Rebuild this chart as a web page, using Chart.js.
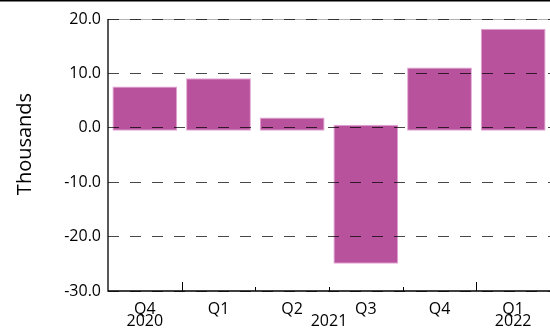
<!DOCTYPE html>
<html>
<head>
<meta charset="utf-8">
<script src="https://cdn.jsdelivr.net/npm/chart.js@4/dist/chart.umd.min.js"></script>
<style>
  html, body { margin: 0; padding: 0; background: #fff; }
  #wrap { width: 550px; height: 332px; position: relative; }
</style>
</head>
<body>
<div id="wrap"><canvas id="c" width="550" height="332"></canvas></div>
<script>
// ---- data ----
const quarters = ['Q4', 'Q1', 'Q2', 'Q3', 'Q4', 'Q1'];
const years = ['2020', '2021', '2021', '2021', '2021', '2022'];
const values = [7.6, 9.1, 1.9, -25.0, 11.1, 18.2];
const yTickValues = [-30, -20, -10, 0, 10, 20];
const yTitle = 'Thousands';

const FONT = "'Open Sans', 'Noto Sans', sans-serif";

const extrasPlugin = {
  id: 'extras',
  beforeDatasetsDraw(chart) {
    // bars start a few pixels past the zero line, as in the reference
    const y = chart.scales.y;
    const zero = y.getPixelForValue(0);
    chart.getDatasetMeta(0).data.forEach((el, i) => {
      el.base = zero + (values[i] >= 0 ? 3 : -3);
    });
    // faint solid line under the top gridline
    const ctx = chart.ctx, a = chart.chartArea;
    ctx.save();
    ctx.strokeStyle = 'rgba(0,0,0,0.3)';
    ctx.lineWidth = 1;
    ctx.beginPath();
    const ty = Math.round(y.getPixelForValue(20)) + 0.5;
    ctx.moveTo(a.left, ty); ctx.lineTo(a.right, ty);
    ctx.stroke();
    ctx.restore();
  },
  afterDraw(chart) {
    const ctx = chart.ctx;
    const x = chart.scales.x;
    const a = chart.chartArea;
    const n = quarters.length;
    const half = x.width / n / 2;
    ctx.save();
    // top border line
    ctx.fillStyle = '#000';
    ctx.fillRect(0, 0, chart.width, 1.5);
    // axis lines
    ctx.strokeStyle = '#000';
    ctx.lineWidth = 1.3;
    ctx.beginPath();
    ctx.moveTo(a.left, a.top);
    ctx.lineTo(a.left, a.bottom);
    ctx.lineTo(a.right, a.bottom);
    ctx.stroke();
    // inner tick marks at category boundaries (longer at year change)
    ctx.lineWidth = 1;
    for (let i = 0; i < n - 1; i++) {
      const px = Math.round((x.getPixelForValue(i) + x.getPixelForValue(i + 1)) / 2) + 0.5;
      const len = years[i] !== years[i + 1] ? 9 : 4;
      ctx.beginPath();
      ctx.moveTo(px, a.bottom);
      ctx.lineTo(px, a.bottom - len);
      ctx.stroke();
    }
    // year labels centred under their quarter groups
    ctx.fillStyle = '#000';
    ctx.font = '16px ' + FONT;
    ctx.textAlign = 'center';
    ctx.textBaseline = 'alphabetic';
    let start = 0;
    for (let i = 1; i <= n; i++) {
      if (i === n || years[i] !== years[start]) {
        const left = x.getPixelForValue(start) - half;
        const right = x.getPixelForValue(i - 1) + half;
        ctx.fillText(years[start], (left + right) / 2, 326);
        start = i;
      }
    }
    // y axis title
    ctx.font = '20px ' + FONT;
    ctx.translate(25, 144);
    ctx.rotate(-Math.PI / 2);
    ctx.textBaseline = 'middle';
    ctx.fillText(yTitle, 0, 0);
    ctx.restore();
  }
};

new Chart(document.getElementById('c'), {
  type: 'bar',
  data: {
    labels: quarters,
    datasets: [{
      data: values,
      backgroundColor: '#B8529C',
      borderColor: '#E2A5D5',
      borderWidth: 1,
      borderSkipped: false,
      barPercentage: 0.88,
      categoryPercentage: 1.0
    }]
  },
  options: {
    responsive: false,
    animation: false,
    events: [],
    layout: { padding: { top: 19, right: 0, left: 0, bottom: 0 } },
    plugins: { legend: { display: false }, tooltip: { enabled: false }, title: { display: false } },
    scales: {
      x: {
        grid: { display: false, drawTicks: false },
        border: { display: false },
        ticks: { color: '#000', font: { family: FONT, size: 16 }, padding: 9, maxRotation: 0, autoSkip: false },
        afterFit(s) { s.height = 41; }
      },
      y: {
        min: -30, max: 20,
        afterBuildTicks(s) { s.ticks = yTickValues.map(v => ({ value: v })); },
        grid: { color: 'rgba(0,0,0,0.72)', lineWidth: 1, drawTicks: false, z: 1 },
        border: { display: false, dash: [11, 11] },
        ticks: { color: '#000', font: { family: FONT, size: 16 }, padding: 7, callback: v => Number(v).toFixed(1) },
        afterFit(s) { s.width = 108; }
      }
    }
  },
  plugins: [extrasPlugin]
});
</script>
</body>
</html>
